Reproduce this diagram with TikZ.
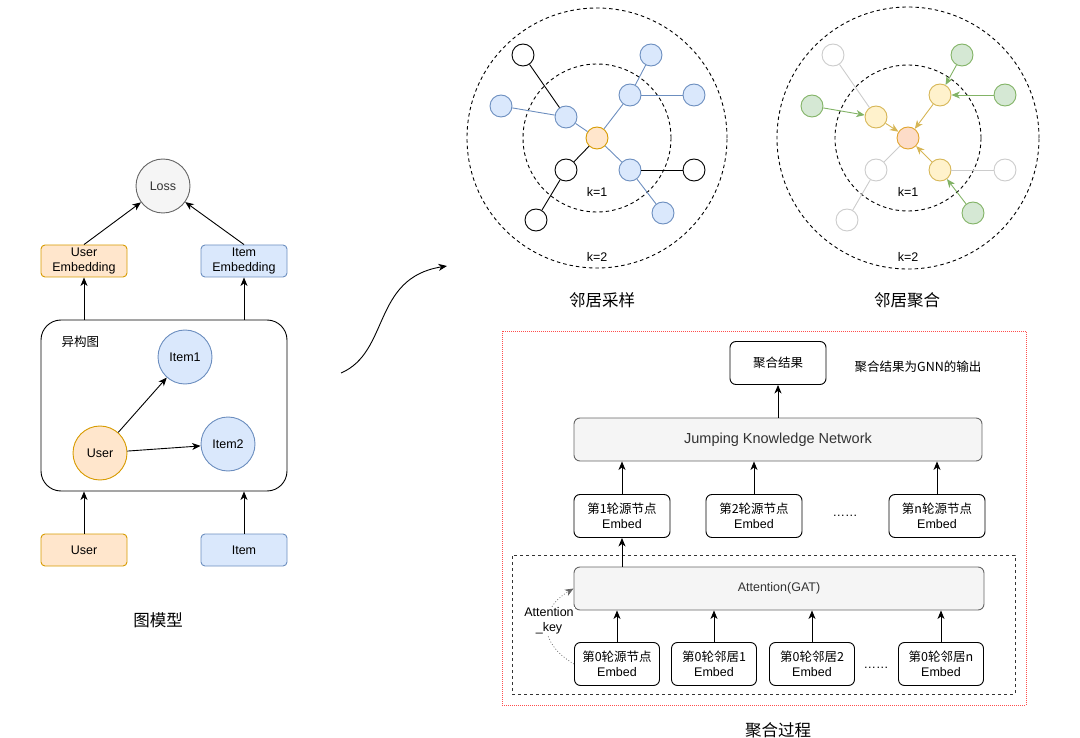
\documentclass[tikz,border=0pt]{standalone}
\usepackage{fontspec}
\setmainfont{Liberation Sans}
\newfontfamily\cjk{Noto Sans CJK SC}
\usetikzlibrary{positioning,arrows.meta}
\definecolor{ofill}{HTML}{FFE6CC}
\definecolor{oline}{HTML}{D79B00}
\definecolor{bfill}{HTML}{DAE8FC}
\definecolor{bline}{HTML}{6C8EBF}
\definecolor{gfill}{HTML}{F5F5F5}
\definecolor{gline}{HTML}{666666}
\definecolor{gtext}{HTML}{333333}
\definecolor{yfill}{HTML}{FFF2CC}
\definecolor{yline}{HTML}{D6B656}
\definecolor{grfill}{HTML}{D5E8D4}
\definecolor{grline}{HTML}{82B366}
\definecolor{faint}{HTML}{CCCCCC}
\definecolor{cfill}{HTML}{FDDCC8}
\definecolor{cline}{HTML}{E0A42C}
\definecolor{redline}{HTML}{FF4D4D}
\newcommand{\nf}{\fontsize{12.5pt}{15pt}\selectfont}
\newcommand{\tf}{\fontsize{16.5pt}{19pt}\selectfont}

\begin{document}
\begin{tikzpicture}[x=1pt, y=-1pt, font=\nf,
        arr/.style={-{Stealth[length=8.5pt,width=7pt,inset=2.5pt]}, line width=0.9pt},
        big/.style={circle, draw, line width=0.9pt, minimum size=54pt, inner sep=0pt},
        ebox/.style={draw, rounded corners=4pt, line width=0.9pt, minimum width=86pt, minimum height=32pt, align=center, inner sep=1pt},
        rbox/.style={draw, rounded corners=6pt, line width=0.9pt, minimum width=96pt, minimum height=43pt, align=center, inner sep=1pt},
        gbox/.style={rbox, fill=gfill, draw=gline, text=gtext, minimum width=408pt},
        orng/.style={fill=ofill, draw=oline},
        blu/.style={fill=bfill, draw=bline},
        gry/.style={fill=gfill, draw=gline, text=gtext},
        vx/.style={circle, draw, line width=0.9pt, minimum size=22pt, inner sep=0pt},
        nbl/.style={vx, blu}, nwh/.style={vx, fill=white, draw=black},
        nyl/.style={vx, fill=yfill, draw=yline}, ngr/.style={vx, fill=grfill, draw=grline},
        ngy/.style={vx, fill=white, draw=faint},
        eb/.style={bline, line width=0.9pt}, ek/.style={black, line width=0.9pt},
        ef/.style={faint, line width=0.9pt},
        ey/.style={arr, yline}, eg/.style={arr, grline},
        ring/.style={circle, draw, line width=0.9pt, dash pattern=on 3.5pt off 3pt, inner sep=0pt}]
    \useasboundingbox (0,0) rectangle (1080,738);

    % graph model
    \node[big, gry] (loss) at (163,186) {Loss};
    \node[ebox, orng] (uemb) at (84,261) {User\\Embedding};
    \node[ebox, blu] (iemb) at (244,261) {Item\\Embedding};
    \node[draw, line width=0.9pt, rounded corners=20pt, minimum width=246pt, minimum height=171pt] (hg) at (164,405.5) {};
    \node[anchor=west] (hglabel) at (58,342) {\cjk 异构图};
    \node[big, blu] (item1) at (185,357) {Item1};
    \node[big, blu] (item2) at (228,444) {Item2};
    \node[big, orng] (user) at (100,453) {User};
    \node[ebox, orng] (ubox) at (84,550) {User};
    \node[ebox, blu] (ibox) at (244,550) {Item};
    \node (lefttitle) at (158,620) {\tf\cjk 图模型};
    \draw[arr] (uemb.north) -- (loss);
    \draw[arr] (iemb.north) -- (loss);
    \draw[arr] (hg.north -| uemb) -- (uemb);
    \draw[arr] (hg.north -| iemb) -- (iemb);
    \draw[arr] (user) -- (item1);
    \draw[arr] (user) -- (item2);
    \draw[arr] (ubox) -- (ubox |- hg.south);
    \draw[arr] (ibox) -- (ibox |- hg.south);

    \coordinate (cs) at (341,373);
    \coordinate (ce) at (447,266);
    \draw[arr] (cs) .. controls (390,352) and (372,278) .. (ce);

    % neighbour sampling
    \begin{scope}[shift={(597,138)}]
        \node[ring, minimum size=260pt] (sk2) at (0,0) {};
        \node[ring, minimum size=148pt] (sk1) at (0,0) {};
        \node (sk1label) at (0,54) {k=1};
        \node (sk2label) at (0,119) {k=2};
        \node[vx, orng] (sc) at (0,0) {};
        \foreach \n/\x/\y/\s in {b1/-31/-21/nbl, b2/33/-43/nbl, b3/33/32/nbl, w1/-31/32/nwh,
                o1/-96/-32/nbl, o2/-74/-83/nwh, o3/54/-83/nbl, o4/97/-43/nbl,
                o5/97/32/nwh, o6/66/75/nbl, o7/-61/82/nwh}
            \node[\s] (s\n) at (\x,\y) {};
        \foreach \a/\b/\e in {c/b1/eb, c/b2/eb, c/b3/eb, c/w1/ek, b1/o1/eb, b1/o2/ek,
                b2/o3/eb, b2/o4/eb, b3/o5/ek, b3/o6/eb, w1/o7/ek}
            \draw[\e] (s\a) -- (s\b);
    \end{scope}
    \node (stitle) at (602,300) {\tf\cjk 邻居采样};

    % neighbour aggregation
    \begin{scope}[shift={(908,138)}]
        \node[ring, minimum size=262pt] (ak2) at (0,0) {};
        \node[ring, minimum size=146pt] (ak1) at (0,0) {};
        \node (ak1label) at (0,54) {k=1};
        \node (ak2label) at (0,119) {k=2};
        \node[vx, fill=cfill, draw=cline] (ac) at (0,0) {};
        \foreach \n/\x/\y/\s in {b1/-32/-21/nyl, b2/32/-43/nyl, b3/32/32/nyl, w1/-32/32/ngy,
                o1/-96/-32/ngr, o2/-75/-83/ngy, o3/54/-83/ngr, o4/97/-43/ngr,
                o5/97/32/ngy, o6/65/75/ngr, o7/-61/82/ngy}
            \node[\s] (a\n) at (\x,\y) {};
        \foreach \a/\b/\e in {b1/c/ey, b2/c/ey, b3/c/ey, c/w1/ef, o1/b1/eg, o2/b1/ef,
                o3/b2/eg, o4/b2/eg, o5/b3/ef, o6/b3/eg, w1/o7/ef}
            \draw[\e] (a\a) -- (a\b);
    \end{scope}
    \node (atitle) at (907,300) {\tf\cjk 邻居聚合};

    % aggregation process
    \node[draw=redline, dash pattern=on 1pt off 1pt, line width=0.8pt, minimum width=524pt, minimum height=374pt] (aggbox) at (764,518) {};
    \node[draw=gtext, dash pattern=on 3pt off 3pt, line width=0.9pt, minimum width=503pt, minimum height=139pt] (gatbox) at (763.5,624.5) {};
    \node[rbox] (res) at (778,363) {\cjk 聚合结果};
    \node (note) at (918,367) {\cjk 聚合结果为GNN的输出};
    \node[gbox, font=\fontsize{14.5pt}{17pt}\selectfont] (jkn) at (778,439.5) {Jumping Knowledge Network};
    \foreach \i/\x in {1/622, 2/754, n/937}
        \node[rbox] (e\i) at (\x,516) {{\cjk 第\i 轮源节点}\\Embed};
    \node (edots) at (845,516) {……};
    \node[gbox, minimum width=410pt] (att) at (779,588.5) {Attention(GAT)};
    \foreach \i/\x/\t in {s/617/源节点, 1/714/邻居1, 2/812/邻居2, n/941/邻居n}
        \node[rbox, minimum width=85pt] (z\i) at (\x,664) {{\cjk 第0轮\t}\\Embed};
    \node (zdots) at (876,668) {……};
    \node (ptitle) at (778,730) {\tf\cjk 聚合过程};

    \draw[arr] (jkn.north -| res) -- (res);
    \foreach \i in {1,2,n}
        \draw[arr] (e\i) -- (e\i |- jkn.south);
    \draw[arr] (att.north -| e1) -- (e1);
    \foreach \i in {s,1,2,n}
        \draw[arr] (z\i) -- (z\i |- att.south);
    \draw[arr, gline, dotted, line width=0.7pt] (zs.west) to[bend left=60, looseness=1.4] (att.west);
    \node[fill=white, inner sep=1pt, align=center] (attkey) at (549,621) {Attention\\\_key};
\end{tikzpicture}
\end{document}
